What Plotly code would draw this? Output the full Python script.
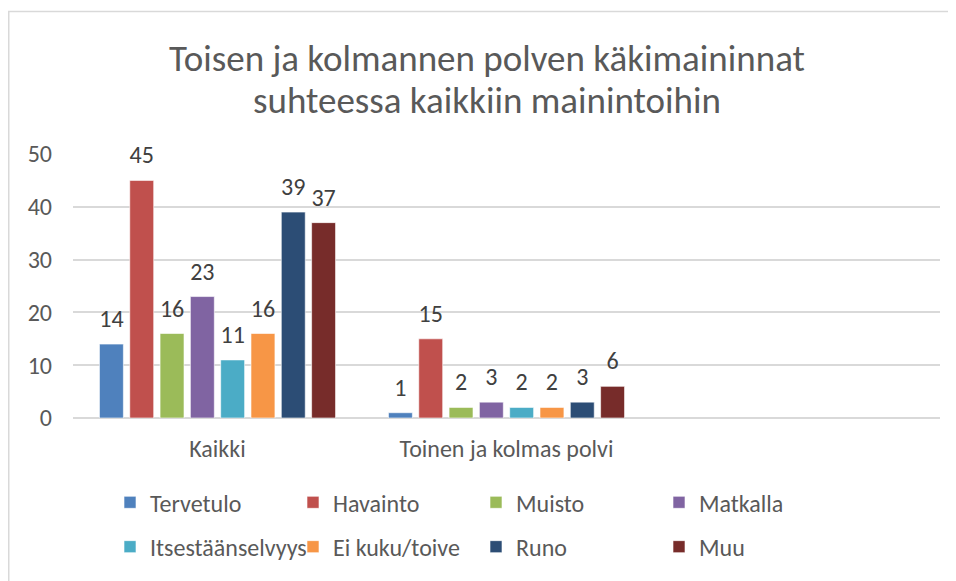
import plotly.graph_objects as go

categories = ["Kaikki", "Toinen ja kolmas polvi", " "]
series_names = ["Tervetulo", "Havainto", "Muisto", "Matkalla",
                "Itsestäänselvyys", "Ei kuku/toive", "Runo", "Muu"]
kaikki = [14, 45, 16, 23, 11, 16, 39, 37]
toinen = [1, 15, 2, 3, 2, 2, 3, 6]
colors = ["#4F81BD", "#C0504D", "#9BBB59", "#8064A2",
          "#4BACC6", "#F79646", "#2C4D75", "#772C2A"]
y_ticks = [0, 10, 20, 30, 40, 50]
title_lines = ["Toisen ja kolmannen polven käkimaininnat",
               "suhteessa kaikkiin mainintoihin"]

FONT = "Carlito, 'Liberation Sans Narrow', 'Open Sans', sans-serif"
# page body has an 8px margin, so the figure starts at (8, 8)
W, H = 948, 573
ML, MR, MT, MB = 65, 16, 146, 159
BARGAP = 0.161
FS = 24

ph = H - MT - MB
pw = W - ML - MR


def py(p):
    """figure-pixel y (from top) -> paper y"""
    return (H - MB - p) / ph


def px(p):
    return (p - ML) / pw


fig = go.Figure()
for i, name in enumerate(series_names):
    vals = [kaikki[i], toinen[i], None]
    fig.add_trace(go.Bar(
        x=categories, y=vals, name=name,
        marker=dict(color=colors[i], line=dict(color="rgba(255,255,255,0.6)", width=1)),
        offsetgroup=str(i), legend="legend" if i < 4 else "legend2",
        hoverinfo="x+y+name",
    ))
for i, name in enumerate(series_names):
    vals = [kaikki[i], toinen[i], None]
    fig.add_trace(go.Scatter(
        x=categories, y=vals, mode="markers+text",
        text=[str(v) if v is not None else "" for v in vals],
        textposition="top center",
        textfont=dict(family=FONT, size=FS, color="#404040"),
        marker=dict(size=16, opacity=0),
        offsetgroup=str(i), showlegend=False, hoverinfo="skip", cliponaxis=False,
    ))

legend_common = dict(orientation="h", x=px(102), xanchor="left", yanchor="middle",
                     entrywidth=138, entrywidthmode="pixels",
                     font=dict(family=FONT, size=FS, color="#595959"),
                     bgcolor="rgba(0,0,0,0)")

fig.update_layout(
    width=W, height=H,
    margin=dict(l=ML, r=MR, t=MT, b=MB),
    paper_bgcolor="white", plot_bgcolor="white",
    barmode="group", bargap=BARGAP, bargroupgap=0.21,
    scattermode="group", scattergap=BARGAP,
    font=dict(family=FONT, size=FS, color="#595959"),
    xaxis=dict(type="category", categoryorder="array", categoryarray=categories,
               range=[-0.5, 2.5], showgrid=False, showline=False, ticks="",
               tickfont=dict(family=FONT, size=FS, color="#595959"),
               ticklabelstandoff=14),
    yaxis=dict(range=[0, 50], tickvals=y_ticks, showgrid=True, gridcolor="#D9D9D9",
               gridwidth=1.5, zeroline=True, zerolinecolor="#D9D9D9", zerolinewidth=1.5,
               showline=False, ticks="", tickfont=dict(family=FONT, size=FS, color="#595959"),
               ticklabelstandoff=20),
    legend=dict(legend_common, y=py(500)),
    legend2=dict(legend_common, y=py(545)),
    annotations=[
        dict(text=title_lines[0], xref="paper", yref="paper", x=px(479), y=py(49),
             xanchor="center", yanchor="middle", showarrow=False,
             font=dict(family=FONT, size=37, color="#595959")),
        dict(text=title_lines[1], xref="paper", yref="paper", x=px(479), y=py(92),
             xanchor="center", yanchor="middle", showarrow=False,
             font=dict(family=FONT, size=37, color="#595959")),
    ],
    shapes=[dict(type="rect", xref="paper", yref="paper",
                 x0=px(0.75), x1=px(W + 20),
                 y0=py(H + 20), y1=py(1.25),
                 line=dict(color="#D9D9D9", width=1.5), fillcolor="rgba(0,0,0,0)",
                 layer="below")],
)
fig.write_html("out.html")
